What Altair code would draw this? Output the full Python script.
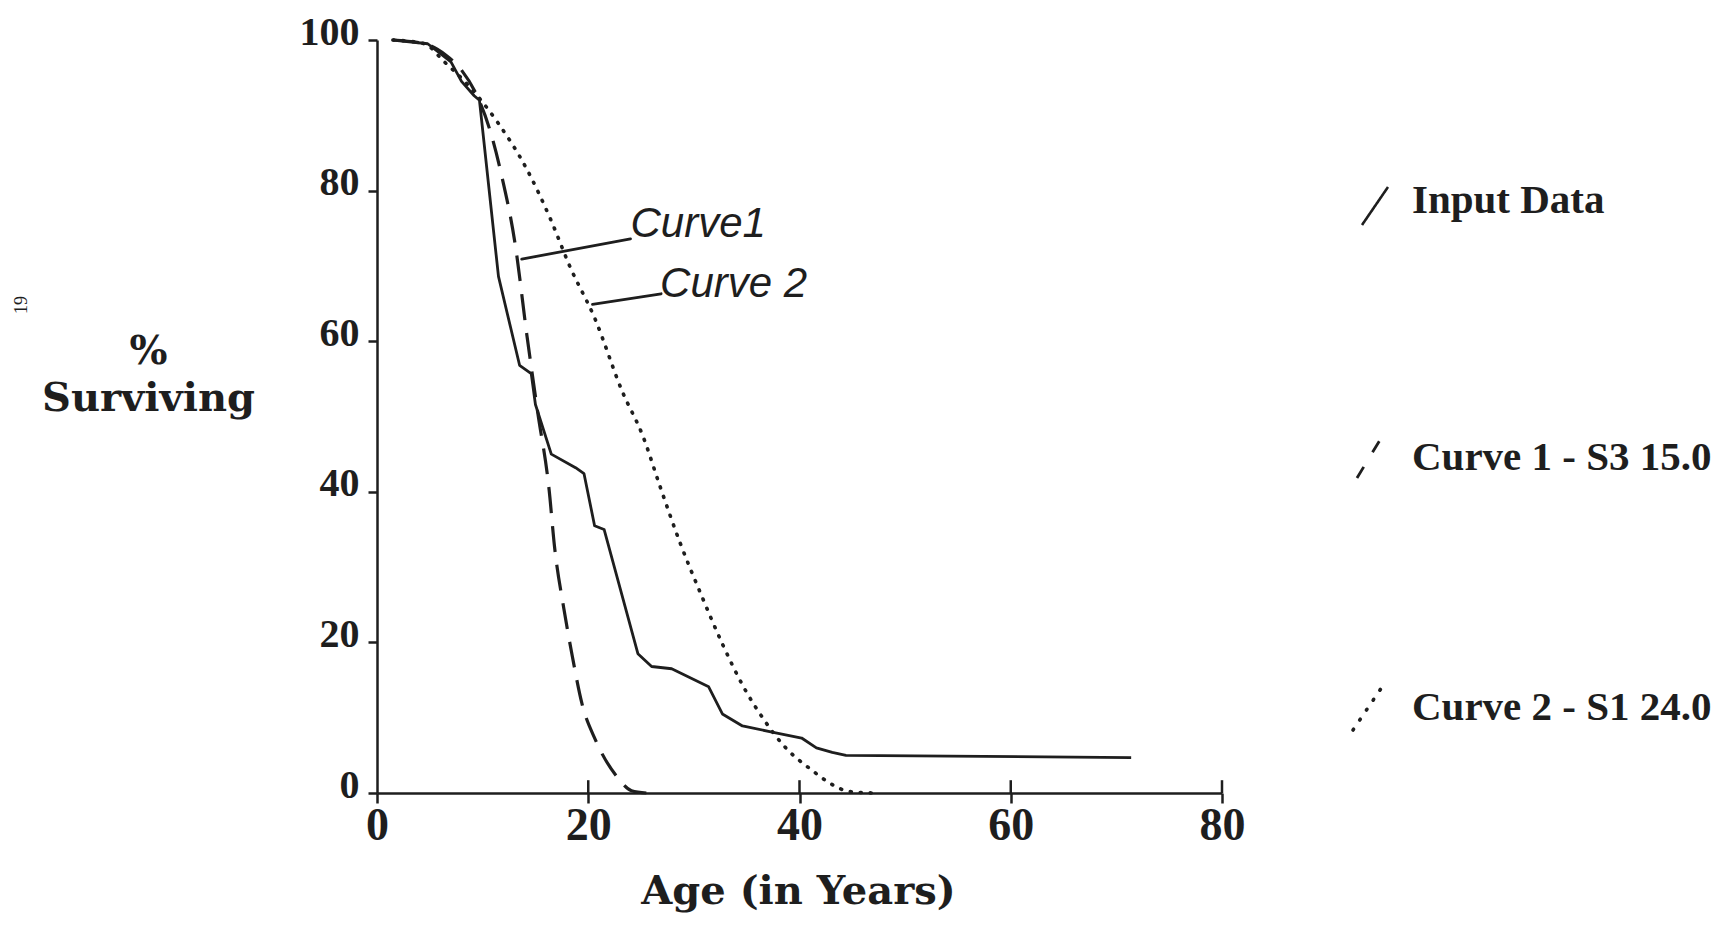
import altair as alt
import pandas as pd

# ---- data ----
input_age = [1.5, 4.8, 7.0, 8.0, 9.2, 9.7, 11.5, 13.5, 14.6, 15.0, 16.5, 18.8, 19.6, 20.6, 21.5,
             24.7, 26.0, 27.9, 31.4, 32.7, 34.6, 37.4, 40.2, 41.6, 43.1, 44.4, 71.4]
input_pct = [100, 99.5, 97.1, 94.5, 92.6, 92.0, 68.6, 56.8, 55.7, 51.6, 45.0, 43.2, 42.4, 35.5, 35.0,
             18.5, 16.8, 16.5, 14.1, 10.5, 8.9, 8.1, 7.3, 6.0, 5.4, 5.0, 4.7]

c1_age = [1.5, 4.5, 6.5, 8.0, 9.5, 10.7, 11.8, 13.1, 14.2, 15.2, 16.3, 16.8, 17.7, 18.5, 19.4,
          20.7, 22.7, 24.1, 25.5]
c1_pct = [100, 99.5, 98.0, 96.0, 92.5, 88.0, 82.0, 72.7, 60.7, 50.7, 40.2, 32.8, 24.4, 18.1, 11.9,
          7.0, 2.2, 0.3, 0.0]

c2_age = [1.5, 4.5, 6.3, 8.5, 11.4, 14.2, 16.4, 18.3, 20.6, 23.2, 25.2, 26.8, 28.7, 30.7, 32.7,
          34.7, 36.6, 38.5, 41.2, 43.0, 44.7, 47.0]
c2_pct = [100, 99.5, 97.2, 94.2, 89.1, 82.8, 76.3, 69.8, 63.1, 53.4, 47.3, 40.7, 33.2, 26.3, 19.8,
          14.1, 9.8, 6.3, 3.0, 1.2, 0.2, 0.0]

x_ticks = [0, 20, 40, 60, 80]
y_ticks = [0, 20, 40, 60, 80, 100]

legend_labels = ["Input Data", "Curve 1 - S3 15.0", "Curve 2 - S1 24.0"]

note_labels = ["Curve1", "Curve 2"]
note_age = [24.0, 26.8]
note_pct = [75.5, 67.6]
leader_age = [13.7, 20.4]
leader_age2 = [24.0, 26.9]
leader_pct = [70.9, 64.9]
leader_pct2 = [73.6, 66.3]

# ---- styling ----
INK = "#1e1e1e"
W, H = 845, 753
TOP = 32

xs = alt.Scale(domain=[0, 80], nice=False, zero=False)
ys = alt.Scale(domain=[0, 100], nice=False, zero=False)

x_axis = alt.Axis(
    values=x_ticks, format="d", grid=False,
    domainColor=INK, domainWidth=2.5,
    tickColor=INK, tickWidth=2.5, tickSize=10,
    labelFont="Liberation Serif", labelFontWeight="bold", labelFontSize=46,
    labelColor=INK, labelBaseline="top", labelPadding=0, labelFlush=False,
    labelOverlap=False,
    title="Age (in Years)", titleFont="DejaVu Serif", titleFontWeight="bold",
    titleFontSize=40, titleColor=INK, titleX=421, titleY=110,
    titleAlign="center", titleBaseline="alphabetic", titleAnchor="start",
)
y_axis = alt.Axis(
    values=y_ticks, format="d", grid=False,
    domainColor=INK, domainWidth=2.5,
    tickColor=INK, tickWidth=2.5, tickSize=9,
    labelFont="Liberation Serif", labelFontWeight="bold", labelFontSize=40,
    labelColor=INK, labelPadding=9, labelOffset=-8, labelFlush=False,
    labelOverlap=False,
    title=["%", "Surviving"], titleFont="DejaVu Serif", titleFontWeight="bold",
    titleFontSize=40, titleColor=INK, titleAngle=0, titleX=-229, titleY=326 - (TOP - 29),
    titleAlign="center", titleBaseline="alphabetic", titleLineHeight=47, titleAnchor="start",
)

X = alt.X("age:Q", scale=xs, axis=x_axis)
Y = alt.Y("pct:Q", scale=ys, axis=y_axis)

df_in = pd.DataFrame({"age": input_age, "pct": input_pct})
df_c1 = pd.DataFrame({"age": c1_age, "pct": c1_pct})
df_c2 = pd.DataFrame({"age": c2_age, "pct": c2_pct})

line_in = alt.Chart(df_in).mark_line(color=INK, strokeWidth=2.8, strokeJoin="round").encode(x=X, y=Y)
line_c1 = alt.Chart(df_c1).mark_line(color=INK, strokeWidth=3.2, strokeDash=[26, 13],
                                     interpolate="monotone").encode(x=X, y=Y)
line_c2 = alt.Chart(df_c2).mark_line(color=INK, strokeWidth=3.6, strokeDash=[1, 9],
                                     strokeCap="round", interpolate="monotone").encode(x=X, y=Y)

# tick marks crossing the x axis (upper half)
df_xt = pd.DataFrame({"age": x_ticks[1:], "pct": [0] * 4, "pct2": [1.7] * 4})
xtick_up = alt.Chart(df_xt).mark_rule(color=INK, strokeWidth=2.5).encode(
    x=X, y=Y, y2="pct2:Q")

# handwritten annotations
df_lead = pd.DataFrame({"age": leader_age, "age2": leader_age2,
                        "pct": leader_pct, "pct2": leader_pct2})
leaders = alt.Chart(df_lead).mark_rule(color=INK, strokeWidth=2.8, strokeCap="round").encode(
    x=X, x2="age2:Q", y=Y, y2="pct2:Q")
df_note = pd.DataFrame({"age": note_age, "pct": note_pct, "label": note_labels})
notes = alt.Chart(df_note).mark_text(
    align="left", baseline="middle", font="Liberation Sans", fontStyle="italic",
    fontSize=42, color=INK).encode(x=X, y=Y, text="label:N")

layers = [line_c2, line_c1, line_in, xtick_up, leaders, notes]

# manual legend (pixel positions relative to the plot area)
d = TOP - 29
legend_text_y = [176 - d, 433 - d, 683 - d]
legend_sym = [
    dict(x=985, x2=1011, y=188 - d, y2=150 - d, dash=[1, 0], w=2.6, cap="butt"),
    dict(x=980, x2=1006, y=441 - d, y2=398 - d, dash=[13, 17], w=2.8, cap="butt"),
    dict(x=976, x2=1005, y=693 - d, y2=650 - d, dash=[1, 11], w=3.6, cap="round"),
]
for lab, ty, s in zip(legend_labels, legend_text_y, legend_sym):
    one = pd.DataFrame({"label": [lab]})
    layers.append(alt.Chart(one).mark_text(
        align="left", baseline="alphabetic", font="Liberation Serif", fontWeight="bold",
        fontSize=41, color=INK).encode(x=alt.value(1035), y=alt.value(ty), text="label:N"))
    layers.append(alt.Chart(one).mark_rule(
        color=INK, strokeWidth=s["w"], strokeDash=s["dash"], strokeCap=s["cap"]).encode(
        x=alt.value(s["x"]), x2=alt.value(s["x2"]), y=alt.value(s["y"]), y2=alt.value(s["y2"])))

# page number printed sideways at the left edge
page = pd.DataFrame({"label": ["19"]})
layers.append(alt.Chart(page).mark_text(
    font="Liberation Serif", fontSize=18, color=INK, angle=270, baseline="middle").encode(
    x=alt.value(-355), y=alt.value(268 - d), text="label:N"))

chart = alt.layer(*layers).properties(
    width=W, height=H,
    padding={"left": 369, "top": TOP, "right": 495, "bottom": 126},
    autosize=alt.AutoSizeParams(type="none"),
    background="white",
).configure_view(stroke=None)

chart.save("out.html", embed_options={"renderer": "svg", "actions": False})
